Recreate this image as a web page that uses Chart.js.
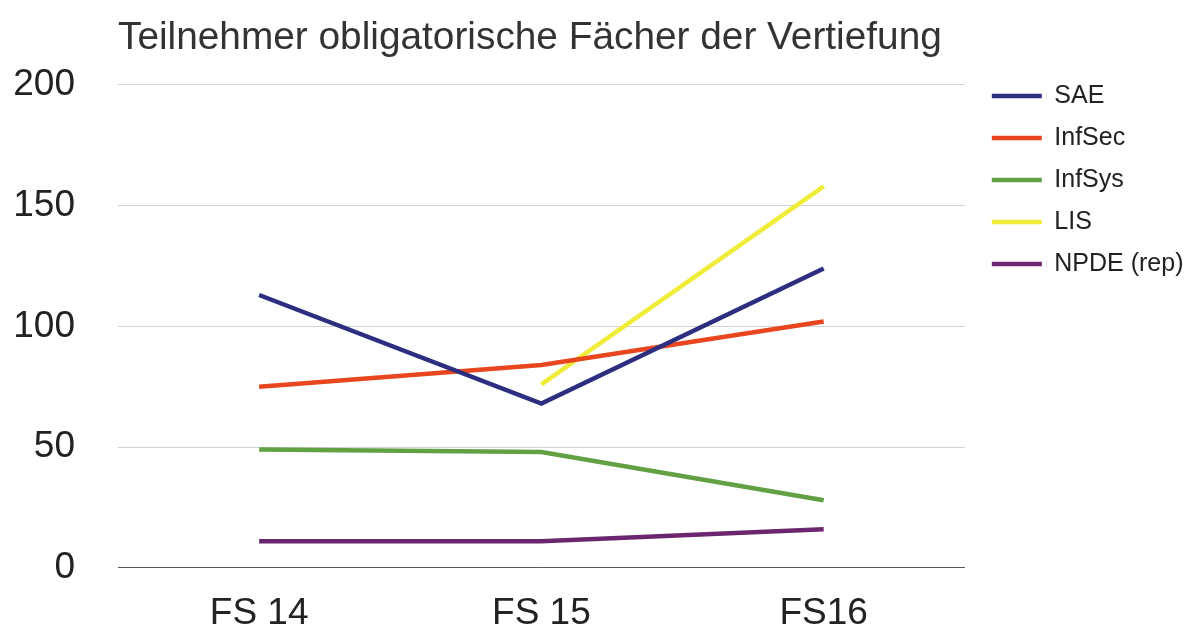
<!DOCTYPE html>
<html>
<head>
<meta charset="utf-8">
<script src="https://cdn.jsdelivr.net/npm/chart.js@4"></script>
<style>
  html, body { margin: 0; padding: 0; background: #ffffff; }
  canvas { display: block; }
</style>
</head>
<body>
<canvas id="c" width="1202" height="633"></canvas>
<script>
const titleText = 'Teilnehmer obligatorische Fächer der Vertiefung';
const categories = ['FS 14', 'FS 15', 'FS16'];
const sae = [113, 68, 124];
const infSec = [75, 84, 102];
const infSys = [49, 48, 28];
const lis = [null, 76, 158];
const npde = [11, 11, 16];
const yTicks = [0, 50, 100, 150, 200];

const FONT = "'Liberation Sans', Arial, Helvetica, sans-serif";

function ds(label, data, color) {
  return {
    label, data,
    borderColor: color, backgroundColor: color,
    borderWidth: 4.5, pointRadius: 0, pointHoverRadius: 0,
    tension: 0, spanGaps: false, pointStyle: 'line',
    borderJoinStyle: 'miter', borderCapStyle: 'butt'
  };
}

// shift the legend a little away from the plot area (gap between grid end and legend)
const legendGap = {
  id: 'legendGap',
  afterLayout(chart) {
    if (chart.legend) {
      chart.legend.left += 10;
      chart.legend.right += 10;
    }
  }
};

new Chart(document.getElementById('c'), {
  type: 'line',
  data: {
    labels: categories,
    datasets: [
      ds('SAE', sae, '#2c2e80'),
      ds('InfSec', infSec, '#e8461e'),
      ds('InfSys', infSys, '#62a044'),
      ds('LIS', lis, '#f0ec3a'),
      ds('NPDE (rep)', npde, '#6c2670')
    ]
  },
  plugins: [legendGap],
  options: {
    responsive: false,
    animation: false,
    devicePixelRatio: 1,
    layout: { padding: { left: 0, right: 18.5, top: 0, bottom: 0 } },
    plugins: {
      tooltip: { enabled: false },
      title: {
        display: true,
        text: titleText,
        align: 'start',
        fullSize: false,
        color: '#333333',
        font: { family: FONT, size: 38.8, weight: 'normal', lineHeight: 1.2 },
        padding: { top: 14.8, bottom: 23.6 }
      },
      legend: {
        display: true,
        position: 'right',
        align: 'start',
        fullSize: true,
        title: { display: true, text: '', font: { size: 10, lineHeight: 1.2 }, padding: { top: 54.5, bottom: 0 } },
        labels: {
          usePointStyle: true,
          pointStyle: 'line',
          pointStyleWidth: 50,
          boxWidth: 50,
          padding: 17,
          color: '#222222',
          font: { family: FONT, size: 25 }
        }
      }
    },
    scales: {
      x: {
        type: 'category',
        offset: true,
        grid: { display: false, drawTicks: false },
        border: { display: true, color: '#555555', width: 1 },
        ticks: { color: '#222222', padding: 24, font: { family: FONT, size: 37 } },
        afterFit: (s) => { s.height = 62; }
      },
      y: {
        min: 0, max: 200,
        afterBuildTicks: (s) => { s.ticks = yTicks.map(v => ({ value: v })); },
        grid: { color: '#d2d2d2', lineWidth: 1, drawTicks: false },
        border: { display: false },
        ticks: { color: '#222222', padding: 43, font: { family: FONT, size: 37 } },
        afterFit: (s) => { s.width = 118; }
      }
    }
  }
});
</script>
</body>
</html>
